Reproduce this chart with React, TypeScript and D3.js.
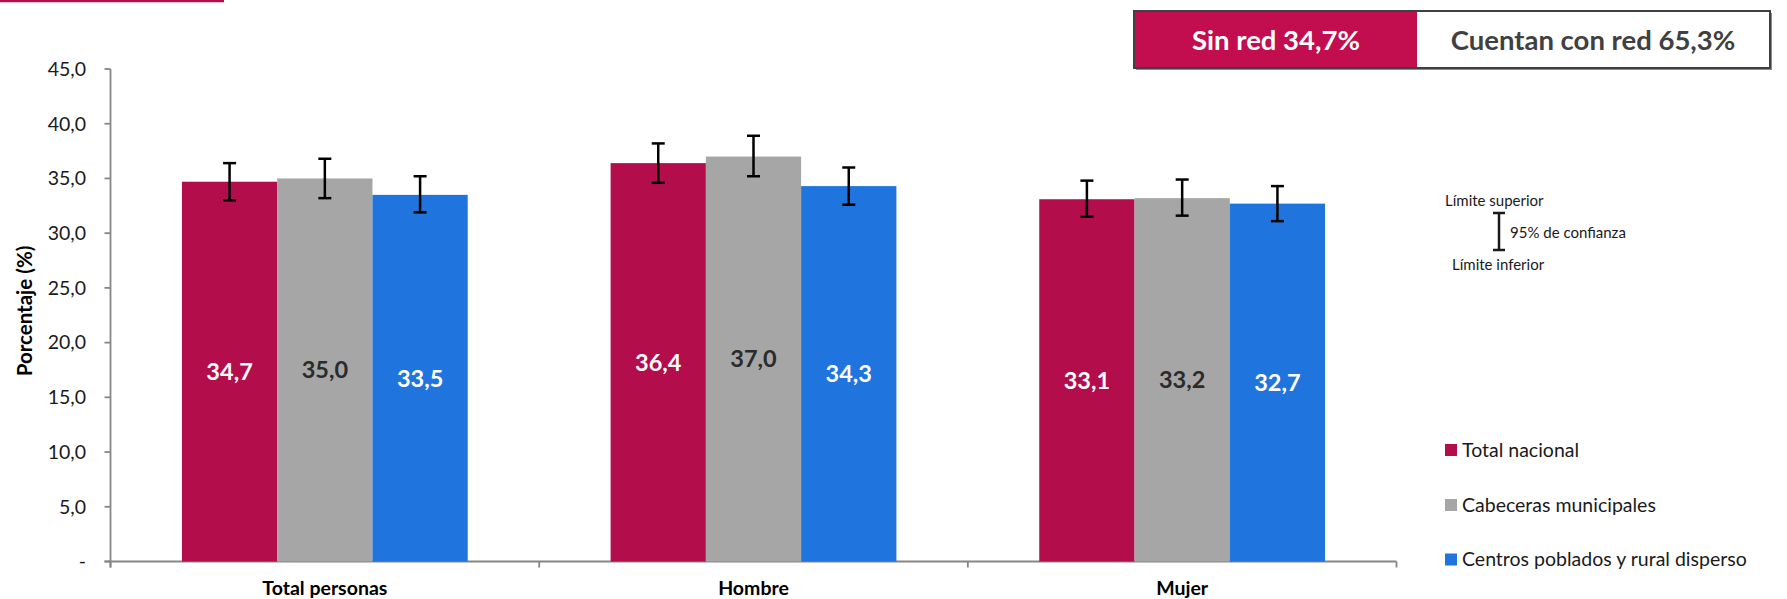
import React, { useLayoutEffect } from "react";
import * as d3 from "d3";

const categories = ["Total personas", "Hombre", "Mujer"];
const seriesNames = ["Total nacional", "Cabeceras municipales", "Centros poblados y rural disperso"];
const totalNacional = [34.7, 36.4, 33.1];
const totalNacionalLo = [33.0, 34.6, 31.5];
const totalNacionalHi = [36.4, 38.2, 34.8];
const cabeceras = [35.0, 37.0, 33.2];
const cabecerasLo = [33.2, 35.2, 31.6];
const cabecerasHi = [36.8, 38.9, 34.9];
const centros = [33.5, 34.3, 32.7];
const centrosLo = [31.9, 32.6, 31.1];
const centrosHi = [35.2, 36.0, 34.3];
const yTicks = [0, 5, 10, 15, 20, 25, 30, 35, 40, 45];
const headerLeft = "Sin red 34,7%";
const headerRight = "Cuentan con red 65,3%";

const colors = ["#B30D4B", "#A6A6A6", "#1F74DE"];
const labelColors = ["#FFFFFF", "#2B2B2B", "#FFFFFF"];
const FONT = "Lato, 'Open Sans', sans-serif";

const W = 1787;
const H = 599;

export default function App() {
  useLayoutEffect(() => {
    document.body.style.margin = "0";
  }, []);

  const seriesVals = [totalNacional, cabeceras, centros];
  const seriesLo = [totalNacionalLo, cabecerasLo, centrosLo];
  const seriesHi = [totalNacionalHi, cabecerasHi, centrosHi];

  const left = 110.5;
  const right = 1396.5;
  const y = d3.scaleLinear().domain([0, 45]).range([561.5, 69]);
  const x0 = d3.scaleBand<string>().domain(categories).range([left, right]).paddingInner(0).paddingOuter(0);
  const band = x0.bandwidth();
  const groupW = (band * 3) / 4.5;
  const x1 = d3.scaleBand<string>().domain(seriesNames).range([0, groupW]);
  const bw = x1.bandwidth();
  const off = (band - groupW) / 2;
  const fmt = (v: number) => (v === 0 ? "-" : d3.format(".1f")(v).replace(".", ","));
  const axisColor = "#868686";

  return (
    <svg width={W} height={H} style={{ display: "block" }} fontFamily={FONT}>
      <rect x={0} y={0} width={W} height={H} fill="#fff" />
      {/* top-left accent line */}
      <line x1={0} x2={224} y1={1} y2={1} stroke="#B30D4B" strokeWidth={2.5} />

      {/* header box */}
      <g>
        <rect x={1136} y={13} width={636} height={57} fill="#8a8a8a" />
        <rect x={1134} y={11} width={636} height={57} fill="#fff" stroke="#404040" strokeWidth={2} />
        <rect x={1135} y={12} width={282} height={55} fill="#C20E4E" />
        <text x={1276} y={40} dy="0.36em" textAnchor="middle" fill="#fff" fontWeight={700} fontSize={27.5}>
          {headerLeft}
        </text>
        <text x={1593} y={40} dy="0.36em" textAnchor="middle" fill="#404040" fontWeight={700} fontSize={27.5}>
          {headerRight}
        </text>
      </g>

      {/* y axis */}
      <line x1={left} x2={left} y1={y(45)} y2={y(0) + 6} stroke={axisColor} strokeWidth={1.8} />
      {yTicks.map((t) => (
        <g key={t}>
          <line x1={left - 6} x2={left} y1={y(t)} y2={y(t)} stroke={axisColor} strokeWidth={1.8} />
          <text x={86} y={y(t)} dy="0.35em" textAnchor="end" fontSize={19.5} fill="#1a1a1a">
            {fmt(t)}
          </text>
        </g>
      ))}
      <text
        transform={`translate(25,311) rotate(-90)`}
        textAnchor="middle"
        dy="0.35em"
        fontWeight={700}
        fontSize={20.5}
        fill="#000"
      >
        Porcentaje (%)
      </text>

      {/* x axis */}
      <line x1={left - 6} x2={right} y1={y(0)} y2={y(0)} stroke={axisColor} strokeWidth={1.8} />
      {[...categories.map((c) => x0(c) as number), right].map((xv, i) => (
        <line key={i} x1={xv} x2={xv} y1={y(0)} y2={y(0) + 6} stroke={axisColor} strokeWidth={1.8} />
      ))}
      {categories.map((c) => (
        <text key={c} x={(x0(c) as number) + band / 2} y={588} dy="0.35em" textAnchor="middle" fontWeight={700} fontSize={19.5} fill="#000">
          {c}
        </text>
      ))}

      {/* bars */}
      {categories.map((c, ci) => (
        <g key={c} transform={`translate(${(x0(c) as number) + off},0)`}>
          {seriesNames.map((s, si) => {
            const v = seriesVals[si][ci];
            const bx = x1(s) as number;
            const cx = bx + bw / 2;
            return (
              <g key={s}>
                <rect x={bx} y={y(v)} width={bw} height={y(0) - y(v)} fill={colors[si]} />
                <text
                  x={cx}
                  y={(y(v) + y(0)) / 2}
                  dy="0.36em"
                  textAnchor="middle"
                  fontWeight={700}
                  fontSize={23.5}
                  fill={labelColors[si]}
                >
                  {fmt(v)}
                </text>
                <g stroke="#000" strokeWidth={2.5}>
                  <line x1={cx} x2={cx} y1={y(seriesHi[si][ci])} y2={y(seriesLo[si][ci])} />
                  <line x1={cx - 6.5} x2={cx + 6.5} y1={y(seriesHi[si][ci])} y2={y(seriesHi[si][ci])} />
                  <line x1={cx - 6.5} x2={cx + 6.5} y1={y(seriesLo[si][ci])} y2={y(seriesLo[si][ci])} />
                </g>
              </g>
            );
          })}
        </g>
      ))}

      {/* confidence legend */}
      <g fill="#1a1a1a" fontSize={15}>
        <text x={1445} y={201} dy="0.35em">Límite superior</text>
        <g stroke="#1a1a1a" strokeWidth={2.5}>
          <line x1={1499} x2={1499} y1={213} y2={250} />
          <line x1={1493} x2={1505} y1={213} y2={213} />
          <line x1={1493} x2={1505} y1={250} y2={250} />
        </g>
        <text x={1510} y={233} dy="0.35em">95% de confianza</text>
        <text x={1452} y={265} dy="0.35em">Límite inferior</text>
      </g>

      {/* series legend */}
      {seriesNames.map((s, i) => {
        const cy = [450, 505, 559.5][i];
        return (
          <g key={s}>
            <rect x={1445} y={cy - 6} width={12} height={12} fill={colors[i]} />
            <text x={1462} y={cy} dy="0.35em" fontSize={19.5} fill="#1a1a1a">
              {s}
            </text>
          </g>
        );
      })}
    </svg>
  );
}
